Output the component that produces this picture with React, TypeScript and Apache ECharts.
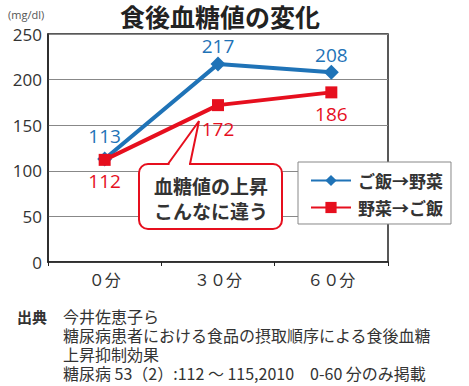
import React, { useEffect, useRef } from "react";
import * as echarts from "echarts";

const categories = ["０分", "３０分", "６０分"];
const seriesNames = ["ご飯→野菜", "野菜→ご飯"];
const riceFirst = [113, 217, 208];
const vegFirst = [112, 172, 186];
const yTicks = [0, 50, 100, 150, 200, 250];
const titleText = "食後血糖値の変化";
const unitText = "(mg/dl)";
const calloutLines = ["血糖値の上昇", "こんなに違う"];
const sourceLabel = "出典";
const sourceLines = [
  "今井佐恵子ら",
  "糖尿病患者における食品の摂取順序による食後血糖",
  "上昇抑制効果",
  "糖尿病 53（2）:112 ～ 115,2010　0-60 分のみ掲載",
];

const BLUE = "#1f73b7";
const RED = "#e60f1e";
const JP = "'Noto Sans CJK JP', 'Noto Sans', sans-serif";
const NUM = "'Open Sans', 'Noto Sans', sans-serif";

export default function App() {
  const ref = useRef<HTMLDivElement>(null);
  useEffect(() => {
    document.body.style.margin = "0";
    const chart = echarts.init(ref.current!, null, { renderer: "svg" });
    const blueDistances = [6, 1, 0];
    const redDistances = [6, 8, 6];
    chart.setOption({
      animation: false,
      backgroundColor: "#ffffff",
      grid: {
        left: 48,
        right: 81,
        top: 34,
        bottom: 124,
        show: true,
        borderColor: "#222",
        borderWidth: 1.5,
      },
      xAxis: {
        type: "category",
        data: categories,
        boundaryGap: true,
        axisLine: { lineStyle: { color: "#222", width: 1.5 } },
        axisTick: { show: true, inside: false, length: 4, lineStyle: { color: "#222" } },
        axisLabel: { fontSize: 16, color: "#333", margin: 9, fontFamily: JP },
      },
      yAxis: {
        type: "value",
        min: yTicks[0],
        max: yTicks[yTicks.length - 1],
        interval: 50,
        axisLine: { show: true, lineStyle: { color: "#222", width: 1.5 } },
        axisTick: { show: false },
        axisLabel: { fontSize: 17, color: "#333", margin: 6, fontFamily: NUM },
        splitLine: { lineStyle: { color: "#888", width: 1 } },
      },
      legend: {
        orient: "vertical",
        left: 298,
        top: 162,
        width: 157,
        height: 63,
        backgroundColor: "#fff",
        borderColor: "#888",
        borderWidth: 1,
        padding: [10, 8, 8, 12],
        itemGap: 10,
        itemWidth: 40,
        itemHeight: 14,
        textStyle: { fontSize: 17, fontWeight: "bold", color: "#333", fontFamily: JP, padding: [0, 0, 0, 2] },
        data: seriesNames,
      },
      series: [
        {
          name: seriesNames[0],
          type: "line",
          data: riceFirst.map((v, i) => ({
            value: v,
            label: { distance: blueDistances[i] },
          })),
          symbol: "diamond",
          symbolSize: 15,
          lineStyle: { color: BLUE, width: 4 },
          itemStyle: { color: BLUE },
          label: {
            show: true,
            position: "top",
            distance: 6,
            fontSize: 19,
            color: BLUE,
            fontFamily: NUM,
          },
          z: 2,
        },
        {
          name: seriesNames[1],
          type: "line",
          data: vegFirst.map((v, i) => ({
            value: v,
            label: { distance: redDistances[i] },
          })),
          symbol: "rect",
          symbolSize: 12,
          lineStyle: { color: RED, width: 4 },
          itemStyle: { color: RED },
          label: {
            show: true,
            position: "bottom",
            distance: 8,
            fontSize: 19,
            color: RED,
            fontFamily: NUM,
          },
          z: 3,
        },
      ],
      graphic: [
        {
          type: "text",
          x: 220,
          y: 16,
          style: {
            text: titleText,
            textAlign: "center",
            textVerticalAlign: "middle",
            font: `bold 25px ${JP}`,
            lineHeight: 24,
            fill: "#222",
          },
          z: 10,
        },
        {
          type: "text",
          x: 8,
          y: 9,
          style: { text: unitText, font: `11px ${NUM}`, fill: "#555" },
        },
        {
          type: "rect",
          shape: { x: 139, y: 164, width: 143, height: 65, r: 9 },
          style: { fill: "#fff", stroke: RED, lineWidth: 2 },
          z: 20,
        },
        {
          type: "line",
          shape: { x1: 169.5, y1: 164, x2: 189, y2: 164 },
          style: { stroke: "#fff", lineWidth: 3 },
          z: 21,
        },
        {
          type: "polyline",
          shape: { points: [[168, 164], [199, 121], [190, 164]] },
          style: { stroke: RED, lineWidth: 2, fill: null },
          z: 21,
        },
        {
          type: "text",
          x: 211,
          y: 185,
          style: {
            text: calloutLines[0],
            font: `bold 19px ${JP}`,
            fill: "#333",
            textAlign: "center",
            textVerticalAlign: "middle",
          },
          z: 22,
        },
        {
          type: "text",
          x: 211,
          y: 210,
          style: {
            text: calloutLines[1],
            font: `bold 19px ${JP}`,
            fill: "#333",
            textAlign: "center",
            textVerticalAlign: "middle",
          },
          z: 22,
        },
        {
          type: "text",
          x: 17,
          y: 316,
          style: {
            text: sourceLabel,
            font: `bold 15px ${JP}`,
            fill: "#333",
            textVerticalAlign: "middle",
          },
        },
        ...sourceLines.map((t, i) => ({
          type: "text",
          x: 63,
          y: 316 + i * 19,
          style: {
            text: t,
            font: `16px ${JP}`,
            lineHeight: 16,
            fill: "#333",
            textVerticalAlign: "middle",
          },
        })),
      ],
    });
    return () => chart.dispose();
  }, []);
  return (
    <div
      ref={ref}
      style={{ position: "fixed", left: 0, top: 0, width: 469, height: 386 }}
    />
  );
}
